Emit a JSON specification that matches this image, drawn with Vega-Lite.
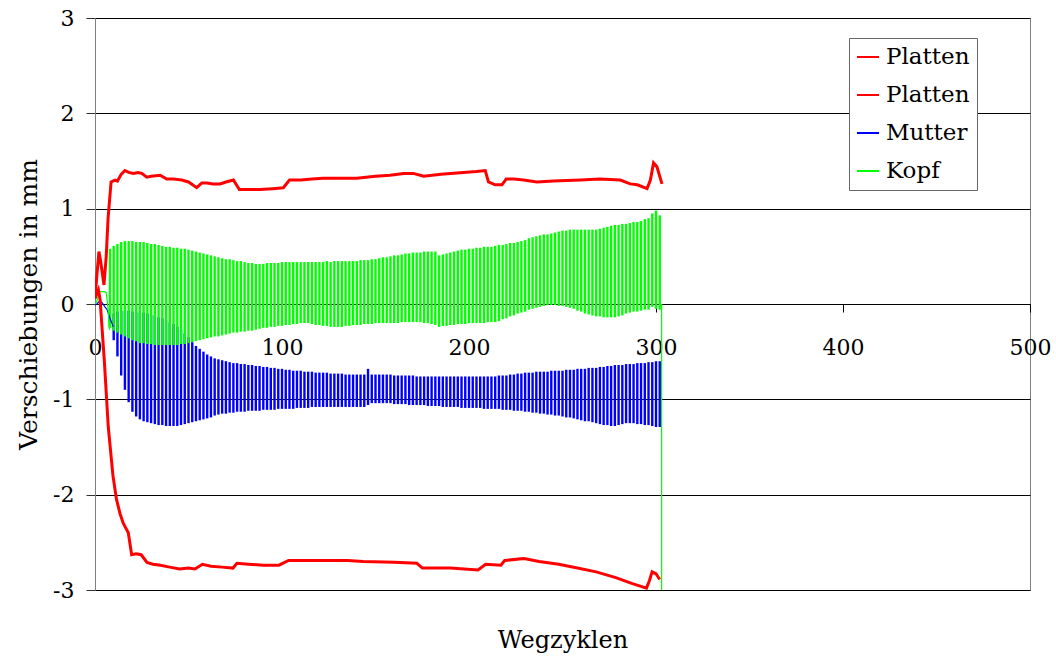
{
  "$schema": "https://vega.github.io/schema/vega-lite/v6.json",
  "autosize": "none",
  "width": 935,
  "height": 572,
  "padding": {"left": 95, "top": 18, "right": 26, "bottom": 69},
  "background": "white",
  "config": {
    "view": {"stroke": "#808080", "strokeWidth": 1},
    "font": "DejaVu Serif"
  },
  "datasets": {
    "platten": [
      {"serie": "Platten oben", "x": 0, "y": 0.06}, {"serie": "Platten oben", "x": 1, "y": 0.3}, {"serie": "Platten oben", "x": 2.1, "y": 0.55}, {"serie": "Platten oben", "x": 3, "y": 0.45}, {"serie": "Platten oben", "x": 4.8, "y": 0.2}, {"serie": "Platten oben", "x": 6, "y": 0.5}, {"serie": "Platten oben", "x": 7, "y": 0.9}, {"serie": "Platten oben", "x": 8.6, "y": 1.28}, {"serie": "Platten oben", "x": 10.7, "y": 1.3}, {"serie": "Platten oben", "x": 12, "y": 1.29}, {"serie": "Platten oben", "x": 14, "y": 1.36}, {"serie": "Platten oben", "x": 16, "y": 1.4}, {"serie": "Platten oben", "x": 18, "y": 1.38}, {"serie": "Platten oben", "x": 20.5, "y": 1.37}, {"serie": "Platten oben", "x": 23, "y": 1.38}, {"serie": "Platten oben", "x": 25, "y": 1.37}, {"serie": "Platten oben", "x": 27.7, "y": 1.33}, {"serie": "Platten oben", "x": 30, "y": 1.34}, {"serie": "Platten oben", "x": 34.8, "y": 1.35}, {"serie": "Platten oben", "x": 38.4, "y": 1.31}, {"serie": "Platten oben", "x": 42, "y": 1.31}, {"serie": "Platten oben", "x": 46.4, "y": 1.3}, {"serie": "Platten oben", "x": 50, "y": 1.28}, {"serie": "Platten oben", "x": 54.4, "y": 1.22}, {"serie": "Platten oben", "x": 57.1, "y": 1.27}, {"serie": "Platten oben", "x": 60, "y": 1.27}, {"serie": "Platten oben", "x": 63, "y": 1.26}, {"serie": "Platten oben", "x": 66.9, "y": 1.26}, {"serie": "Platten oben", "x": 70, "y": 1.28}, {"serie": "Platten oben", "x": 74, "y": 1.3}, {"serie": "Platten oben", "x": 77.2, "y": 1.2}, {"serie": "Platten oben", "x": 82, "y": 1.2}, {"serie": "Platten oben", "x": 88.3, "y": 1.2}, {"serie": "Platten oben", "x": 95, "y": 1.21}, {"serie": "Platten oben", "x": 100.7, "y": 1.22}, {"serie": "Platten oben", "x": 104, "y": 1.3}, {"serie": "Platten oben", "x": 110, "y": 1.3}, {"serie": "Platten oben", "x": 116, "y": 1.31}, {"serie": "Platten oben", "x": 122.1, "y": 1.32}, {"serie": "Platten oben", "x": 130, "y": 1.32}, {"serie": "Platten oben", "x": 140, "y": 1.32}, {"serie": "Platten oben", "x": 150, "y": 1.34}, {"serie": "Platten oben", "x": 157.8, "y": 1.35}, {"serie": "Platten oben", "x": 165, "y": 1.37}, {"serie": "Platten oben", "x": 170.3, "y": 1.37}, {"serie": "Platten oben", "x": 175.7, "y": 1.34}, {"serie": "Platten oben", "x": 185, "y": 1.36}, {"serie": "Platten oben", "x": 197.1, "y": 1.38}, {"serie": "Platten oben", "x": 204, "y": 1.39}, {"serie": "Platten oben", "x": 208.7, "y": 1.4}, {"serie": "Platten oben", "x": 210.4, "y": 1.28}, {"serie": "Platten oben", "x": 214, "y": 1.25}, {"serie": "Platten oben", "x": 217.6, "y": 1.25}, {"serie": "Platten oben", "x": 219.9, "y": 1.31}, {"serie": "Platten oben", "x": 224, "y": 1.31}, {"serie": "Platten oben", "x": 229.2, "y": 1.3}, {"serie": "Platten oben", "x": 236.3, "y": 1.28}, {"serie": "Platten oben", "x": 245, "y": 1.29}, {"serie": "Platten oben", "x": 259.5, "y": 1.3}, {"serie": "Platten oben", "x": 270, "y": 1.31}, {"serie": "Platten oben", "x": 280.9, "y": 1.3}, {"serie": "Platten oben", "x": 286.2, "y": 1.26}, {"serie": "Platten oben", "x": 290, "y": 1.25}, {"serie": "Platten oben", "x": 295.2, "y": 1.21}, {"serie": "Platten oben", "x": 297, "y": 1.3}, {"serie": "Platten oben", "x": 298.7, "y": 1.48}, {"serie": "Platten oben", "x": 300.5, "y": 1.44}, {"serie": "Platten oben", "x": 303.2, "y": 1.26},
      {"serie": "Platten unten", "x": 0, "y": 0.06}, {"serie": "Platten unten", "x": 1.8, "y": 0.15}, {"serie": "Platten unten", "x": 2.7, "y": 0.05}, {"serie": "Platten unten", "x": 5, "y": -0.6}, {"serie": "Platten unten", "x": 7.1, "y": -1.29}, {"serie": "Platten unten", "x": 9.6, "y": -1.8}, {"serie": "Platten unten", "x": 11.5, "y": -2.05}, {"serie": "Platten unten", "x": 13.4, "y": -2.2}, {"serie": "Platten unten", "x": 15.1, "y": -2.3}, {"serie": "Platten unten", "x": 17.8, "y": -2.4}, {"serie": "Platten unten", "x": 19.6, "y": -2.63}, {"serie": "Platten unten", "x": 22, "y": -2.62}, {"serie": "Platten unten", "x": 24.7, "y": -2.63}, {"serie": "Platten unten", "x": 27.8, "y": -2.71}, {"serie": "Platten unten", "x": 31, "y": -2.73}, {"serie": "Platten unten", "x": 35, "y": -2.74}, {"serie": "Platten unten", "x": 40, "y": -2.76}, {"serie": "Platten unten", "x": 45.2, "y": -2.78}, {"serie": "Platten unten", "x": 50, "y": -2.77}, {"serie": "Platten unten", "x": 53.4, "y": -2.78}, {"serie": "Platten unten", "x": 57.5, "y": -2.73}, {"serie": "Platten unten", "x": 62, "y": -2.75}, {"serie": "Platten unten", "x": 68, "y": -2.76}, {"serie": "Platten unten", "x": 73.8, "y": -2.77}, {"serie": "Platten unten", "x": 75.9, "y": -2.72}, {"serie": "Platten unten", "x": 82, "y": -2.73}, {"serie": "Platten unten", "x": 90, "y": -2.74}, {"serie": "Platten unten", "x": 98.4, "y": -2.74}, {"serie": "Platten unten", "x": 103.5, "y": -2.69}, {"serie": "Platten unten", "x": 120, "y": -2.69}, {"serie": "Platten unten", "x": 135.2, "y": -2.69}, {"serie": "Platten unten", "x": 143.4, "y": -2.7}, {"serie": "Platten unten", "x": 160, "y": -2.71}, {"serie": "Platten unten", "x": 172.1, "y": -2.72}, {"serie": "Platten unten", "x": 175.1, "y": -2.77}, {"serie": "Platten unten", "x": 190, "y": -2.77}, {"serie": "Platten unten", "x": 204.8, "y": -2.79}, {"serie": "Platten unten", "x": 208.9, "y": -2.73}, {"serie": "Platten unten", "x": 217.1, "y": -2.74}, {"serie": "Platten unten", "x": 219.1, "y": -2.69}, {"serie": "Platten unten", "x": 229.4, "y": -2.67}, {"serie": "Platten unten", "x": 237.5, "y": -2.7}, {"serie": "Platten unten", "x": 248, "y": -2.73}, {"serie": "Platten unten", "x": 258, "y": -2.77}, {"serie": "Platten unten", "x": 268, "y": -2.81}, {"serie": "Platten unten", "x": 278.5, "y": -2.87}, {"serie": "Platten unten", "x": 287, "y": -2.93}, {"serie": "Platten unten", "x": 294.9, "y": -2.98}, {"serie": "Platten unten", "x": 296.5, "y": -2.9}, {"serie": "Platten unten", "x": 297.9, "y": -2.81}, {"serie": "Platten unten", "x": 300, "y": -2.83}, {"serie": "Platten unten", "x": 302, "y": -2.89}
    ],
    "verlauf": [
      {"serie": "Mutter", "teil": "m0", "x": 0, "y": -0.01}, {"serie": "Mutter", "teil": "m0", "x": 1, "y": 0.0}, {"serie": "Mutter", "teil": "m0", "x": 2, "y": 0.02}, {"serie": "Mutter", "teil": "m0", "x": 3, "y": 0.03}, {"serie": "Mutter", "teil": "m0", "x": 4, "y": 0.01}, {"serie": "Mutter", "teil": "m0", "x": 5.3, "y": -0.03}, {"serie": "Mutter", "teil": "m0", "x": 6.5, "y": -0.06}, {"serie": "Mutter", "teil": "m0", "x": 8, "y": -0.15}, {"serie": "Mutter", "teil": "m0", "x": 9.8, "y": -0.24},
      {"serie": "Kopf", "teil": "k0", "x": 0, "y": 0.0}, {"serie": "Kopf", "teil": "k0", "x": 1, "y": 0.03}, {"serie": "Kopf", "teil": "k0", "x": 2, "y": 0.12}, {"serie": "Kopf", "teil": "k0", "x": 3, "y": 0.13}, {"serie": "Kopf", "teil": "k0", "x": 5, "y": 0.13}, {"serie": "Kopf", "teil": "k0", "x": 6, "y": 0.12}, {"serie": "Kopf", "teil": "k0", "x": 7, "y": -0.05}, {"serie": "Kopf", "teil": "k0", "x": 7.5, "y": -0.25}, {"serie": "Kopf", "teil": "k0", "x": 8, "y": -0.27},
      {"serie": "Kopf", "teil": "k1", "x": 303, "y": 0.0}, {"serie": "Kopf", "teil": "k1", "x": 303, "y": -3.0}
    ],
    "zyklen": [
      {"x": 8, "ko": 0.58, "ku": -0.25, "mo": -0.10, "mu": -0.20},
      {"x": 10, "ko": 0.61, "ku": -0.28, "mo": -0.10, "mu": -0.38},
      {"x": 12, "ko": 0.63, "ku": -0.30, "mo": -0.08, "mu": -0.55},
      {"x": 14, "ko": 0.65, "ku": -0.32, "mo": -0.07, "mu": -0.75},
      {"x": 16, "ko": 0.66, "ku": -0.34, "mo": -0.07, "mu": -0.90},
      {"x": 18, "ko": 0.66, "ku": -0.36, "mo": -0.07, "mu": -1.03},
      {"x": 20, "ko": 0.66, "ku": -0.38, "mo": -0.08, "mu": -1.13},
      {"x": 22, "ko": 0.65, "ku": -0.39, "mo": -0.08, "mu": -1.18},
      {"x": 24, "ko": 0.65, "ku": -0.41, "mo": -0.09, "mu": -1.21},
      {"x": 26, "ko": 0.65, "ku": -0.41, "mo": -0.09, "mu": -1.23},
      {"x": 28, "ko": 0.64, "ku": -0.42, "mo": -0.10, "mu": -1.24},
      {"x": 30, "ko": 0.63, "ku": -0.42, "mo": -0.11, "mu": -1.25},
      {"x": 32, "ko": 0.63, "ku": -0.43, "mo": -0.12, "mu": -1.26},
      {"x": 34, "ko": 0.62, "ku": -0.43, "mo": -0.14, "mu": -1.27},
      {"x": 36, "ko": 0.61, "ku": -0.43, "mo": -0.15, "mu": -1.27},
      {"x": 38, "ko": 0.60, "ku": -0.43, "mo": -0.17, "mu": -1.28},
      {"x": 40, "ko": 0.60, "ku": -0.43, "mo": -0.19, "mu": -1.28},
      {"x": 42, "ko": 0.59, "ku": -0.43, "mo": -0.21, "mu": -1.28},
      {"x": 44, "ko": 0.59, "ku": -0.43, "mo": -0.24, "mu": -1.28},
      {"x": 46, "ko": 0.58, "ku": -0.42, "mo": -0.27, "mu": -1.27},
      {"x": 48, "ko": 0.58, "ku": -0.42, "mo": -0.31, "mu": -1.26},
      {"x": 50, "ko": 0.57, "ku": -0.41, "mo": -0.35, "mu": -1.25},
      {"x": 52, "ko": 0.56, "ku": -0.40, "mo": -0.40, "mu": -1.24},
      {"x": 54, "ko": 0.55, "ku": -0.39, "mo": -0.44, "mu": -1.23},
      {"x": 56, "ko": 0.54, "ku": -0.38, "mo": -0.47, "mu": -1.22},
      {"x": 58, "ko": 0.53, "ku": -0.37, "mo": -0.50, "mu": -1.21},
      {"x": 60, "ko": 0.52, "ku": -0.36, "mo": -0.53, "mu": -1.20},
      {"x": 62, "ko": 0.51, "ku": -0.35, "mo": -0.55, "mu": -1.19},
      {"x": 64, "ko": 0.50, "ku": -0.34, "mo": -0.57, "mu": -1.17},
      {"x": 66, "ko": 0.49, "ku": -0.34, "mo": -0.58, "mu": -1.16},
      {"x": 68, "ko": 0.48, "ku": -0.33, "mo": -0.59, "mu": -1.15},
      {"x": 70, "ko": 0.47, "ku": -0.32, "mo": -0.60, "mu": -1.15},
      {"x": 72, "ko": 0.47, "ku": -0.31, "mo": -0.61, "mu": -1.14},
      {"x": 74, "ko": 0.46, "ku": -0.30, "mo": -0.62, "mu": -1.14},
      {"x": 76, "ko": 0.45, "ku": -0.30, "mo": -0.62, "mu": -1.13},
      {"x": 78, "ko": 0.45, "ku": -0.29, "mo": -0.63, "mu": -1.13},
      {"x": 80, "ko": 0.44, "ku": -0.29, "mo": -0.63, "mu": -1.13},
      {"x": 82, "ko": 0.43, "ku": -0.28, "mo": -0.64, "mu": -1.12},
      {"x": 84, "ko": 0.43, "ku": -0.28, "mo": -0.64, "mu": -1.12},
      {"x": 86, "ko": 0.42, "ku": -0.27, "mo": -0.65, "mu": -1.12},
      {"x": 88, "ko": 0.42, "ku": -0.26, "mo": -0.65, "mu": -1.12},
      {"x": 90, "ko": 0.42, "ku": -0.25, "mo": -0.66, "mu": -1.11},
      {"x": 92, "ko": 0.43, "ku": -0.25, "mo": -0.66, "mu": -1.11},
      {"x": 94, "ko": 0.43, "ku": -0.24, "mo": -0.67, "mu": -1.11},
      {"x": 96, "ko": 0.43, "ku": -0.24, "mo": -0.67, "mu": -1.11},
      {"x": 98, "ko": 0.43, "ku": -0.23, "mo": -0.68, "mu": -1.10},
      {"x": 100, "ko": 0.44, "ku": -0.23, "mo": -0.68, "mu": -1.10},
      {"x": 102, "ko": 0.44, "ku": -0.22, "mo": -0.69, "mu": -1.10},
      {"x": 104, "ko": 0.44, "ku": -0.22, "mo": -0.69, "mu": -1.10},
      {"x": 106, "ko": 0.44, "ku": -0.21, "mo": -0.70, "mu": -1.10},
      {"x": 108, "ko": 0.44, "ku": -0.21, "mo": -0.70, "mu": -1.09},
      {"x": 110, "ko": 0.44, "ku": -0.20, "mo": -0.70, "mu": -1.09},
      {"x": 112, "ko": 0.44, "ku": -0.20, "mo": -0.71, "mu": -1.09},
      {"x": 114, "ko": 0.44, "ku": -0.20, "mo": -0.71, "mu": -1.09},
      {"x": 116, "ko": 0.44, "ku": -0.21, "mo": -0.71, "mu": -1.08},
      {"x": 118, "ko": 0.44, "ku": -0.22, "mo": -0.72, "mu": -1.08},
      {"x": 120, "ko": 0.44, "ku": -0.22, "mo": -0.72, "mu": -1.08},
      {"x": 122, "ko": 0.44, "ku": -0.23, "mo": -0.72, "mu": -1.08},
      {"x": 124, "ko": 0.45, "ku": -0.23, "mo": -0.72, "mu": -1.08},
      {"x": 126, "ko": 0.44, "ku": -0.24, "mo": -0.73, "mu": -1.08},
      {"x": 128, "ko": 0.45, "ku": -0.24, "mo": -0.73, "mu": -1.08},
      {"x": 130, "ko": 0.45, "ku": -0.24, "mo": -0.73, "mu": -1.08},
      {"x": 132, "ko": 0.45, "ku": -0.24, "mo": -0.73, "mu": -1.08},
      {"x": 134, "ko": 0.45, "ku": -0.23, "mo": -0.74, "mu": -1.08},
      {"x": 136, "ko": 0.45, "ku": -0.23, "mo": -0.74, "mu": -1.08},
      {"x": 138, "ko": 0.45, "ku": -0.22, "mo": -0.74, "mu": -1.08},
      {"x": 140, "ko": 0.45, "ku": -0.22, "mo": -0.74, "mu": -1.08},
      {"x": 142, "ko": 0.46, "ku": -0.22, "mo": -0.74, "mu": -1.08},
      {"x": 144, "ko": 0.46, "ku": -0.21, "mo": -0.74, "mu": -1.08},
      {"x": 146, "ko": 0.46, "ku": -0.21, "mo": -0.68, "mu": -1.06},
      {"x": 148, "ko": 0.47, "ku": -0.21, "mo": -0.74, "mu": -1.04},
      {"x": 150, "ko": 0.47, "ku": -0.20, "mo": -0.74, "mu": -1.04},
      {"x": 152, "ko": 0.48, "ku": -0.20, "mo": -0.74, "mu": -1.04},
      {"x": 154, "ko": 0.49, "ku": -0.20, "mo": -0.74, "mu": -1.04},
      {"x": 156, "ko": 0.49, "ku": -0.20, "mo": -0.74, "mu": -1.04},
      {"x": 158, "ko": 0.50, "ku": -0.20, "mo": -0.74, "mu": -1.04},
      {"x": 160, "ko": 0.51, "ku": -0.20, "mo": -0.75, "mu": -1.05},
      {"x": 162, "ko": 0.51, "ku": -0.20, "mo": -0.75, "mu": -1.05},
      {"x": 164, "ko": 0.52, "ku": -0.19, "mo": -0.75, "mu": -1.05},
      {"x": 166, "ko": 0.53, "ku": -0.19, "mo": -0.75, "mu": -1.05},
      {"x": 168, "ko": 0.53, "ku": -0.19, "mo": -0.75, "mu": -1.06},
      {"x": 170, "ko": 0.54, "ku": -0.19, "mo": -0.75, "mu": -1.06},
      {"x": 172, "ko": 0.54, "ku": -0.19, "mo": -0.76, "mu": -1.06},
      {"x": 174, "ko": 0.54, "ku": -0.19, "mo": -0.76, "mu": -1.06},
      {"x": 176, "ko": 0.55, "ku": -0.20, "mo": -0.76, "mu": -1.06},
      {"x": 178, "ko": 0.55, "ku": -0.20, "mo": -0.76, "mu": -1.07},
      {"x": 180, "ko": 0.55, "ku": -0.21, "mo": -0.76, "mu": -1.07},
      {"x": 182, "ko": 0.55, "ku": -0.22, "mo": -0.76, "mu": -1.07},
      {"x": 184, "ko": 0.51, "ku": -0.24, "mo": -0.76, "mu": -1.07},
      {"x": 186, "ko": 0.52, "ku": -0.23, "mo": -0.76, "mu": -1.08},
      {"x": 188, "ko": 0.53, "ku": -0.23, "mo": -0.76, "mu": -1.08},
      {"x": 190, "ko": 0.54, "ku": -0.22, "mo": -0.76, "mu": -1.08},
      {"x": 192, "ko": 0.55, "ku": -0.22, "mo": -0.76, "mu": -1.08},
      {"x": 194, "ko": 0.56, "ku": -0.21, "mo": -0.76, "mu": -1.08},
      {"x": 196, "ko": 0.57, "ku": -0.21, "mo": -0.76, "mu": -1.09},
      {"x": 198, "ko": 0.57, "ku": -0.21, "mo": -0.76, "mu": -1.09},
      {"x": 200, "ko": 0.58, "ku": -0.20, "mo": -0.76, "mu": -1.09},
      {"x": 202, "ko": 0.58, "ku": -0.20, "mo": -0.76, "mu": -1.09},
      {"x": 204, "ko": 0.59, "ku": -0.20, "mo": -0.76, "mu": -1.09},
      {"x": 206, "ko": 0.59, "ku": -0.20, "mo": -0.76, "mu": -1.09},
      {"x": 208, "ko": 0.60, "ku": -0.20, "mo": -0.76, "mu": -1.10},
      {"x": 210, "ko": 0.60, "ku": -0.19, "mo": -0.76, "mu": -1.10},
      {"x": 212, "ko": 0.60, "ku": -0.19, "mo": -0.76, "mu": -1.10},
      {"x": 214, "ko": 0.61, "ku": -0.19, "mo": -0.76, "mu": -1.10},
      {"x": 216, "ko": 0.62, "ku": -0.18, "mo": -0.75, "mu": -1.10},
      {"x": 218, "ko": 0.62, "ku": -0.16, "mo": -0.75, "mu": -1.11},
      {"x": 220, "ko": 0.63, "ku": -0.15, "mo": -0.75, "mu": -1.11},
      {"x": 222, "ko": 0.64, "ku": -0.13, "mo": -0.74, "mu": -1.11},
      {"x": 224, "ko": 0.64, "ku": -0.12, "mo": -0.74, "mu": -1.12},
      {"x": 226, "ko": 0.65, "ku": -0.10, "mo": -0.73, "mu": -1.12},
      {"x": 228, "ko": 0.66, "ku": -0.09, "mo": -0.73, "mu": -1.12},
      {"x": 230, "ko": 0.67, "ku": -0.08, "mo": -0.72, "mu": -1.13},
      {"x": 232, "ko": 0.69, "ku": -0.06, "mo": -0.72, "mu": -1.13},
      {"x": 234, "ko": 0.70, "ku": -0.05, "mo": -0.72, "mu": -1.14},
      {"x": 236, "ko": 0.71, "ku": -0.04, "mo": -0.71, "mu": -1.14},
      {"x": 238, "ko": 0.72, "ku": -0.03, "mo": -0.71, "mu": -1.15},
      {"x": 240, "ko": 0.73, "ku": -0.02, "mo": -0.71, "mu": -1.15},
      {"x": 242, "ko": 0.73, "ku": -0.01, "mo": -0.71, "mu": -1.16},
      {"x": 244, "ko": 0.74, "ku": -0.01, "mo": -0.70, "mu": -1.16},
      {"x": 246, "ko": 0.75, "ku": -0.01, "mo": -0.70, "mu": -1.17},
      {"x": 248, "ko": 0.76, "ku": -0.02, "mo": -0.70, "mu": -1.17},
      {"x": 250, "ko": 0.77, "ku": -0.02, "mo": -0.70, "mu": -1.18},
      {"x": 252, "ko": 0.77, "ku": -0.03, "mo": -0.69, "mu": -1.19},
      {"x": 254, "ko": 0.78, "ku": -0.04, "mo": -0.69, "mu": -1.19},
      {"x": 256, "ko": 0.78, "ku": -0.05, "mo": -0.69, "mu": -1.20},
      {"x": 258, "ko": 0.78, "ku": -0.07, "mo": -0.68, "mu": -1.21},
      {"x": 260, "ko": 0.78, "ku": -0.08, "mo": -0.68, "mu": -1.22},
      {"x": 262, "ko": 0.78, "ku": -0.10, "mo": -0.68, "mu": -1.23},
      {"x": 264, "ko": 0.78, "ku": -0.11, "mo": -0.67, "mu": -1.23},
      {"x": 266, "ko": 0.78, "ku": -0.12, "mo": -0.67, "mu": -1.24},
      {"x": 268, "ko": 0.78, "ku": -0.13, "mo": -0.67, "mu": -1.25},
      {"x": 270, "ko": 0.79, "ku": -0.13, "mo": -0.66, "mu": -1.26},
      {"x": 272, "ko": 0.80, "ku": -0.14, "mo": -0.66, "mu": -1.27},
      {"x": 274, "ko": 0.81, "ku": -0.14, "mo": -0.65, "mu": -1.27},
      {"x": 276, "ko": 0.82, "ku": -0.14, "mo": -0.65, "mu": -1.28},
      {"x": 278, "ko": 0.83, "ku": -0.14, "mo": -0.64, "mu": -1.28},
      {"x": 280, "ko": 0.83, "ku": -0.13, "mo": -0.64, "mu": -1.27},
      {"x": 282, "ko": 0.84, "ku": -0.12, "mo": -0.64, "mu": -1.26},
      {"x": 284, "ko": 0.84, "ku": -0.10, "mo": -0.63, "mu": -1.25},
      {"x": 286, "ko": 0.85, "ku": -0.09, "mo": -0.63, "mu": -1.25},
      {"x": 288, "ko": 0.86, "ku": -0.08, "mo": -0.63, "mu": -1.25},
      {"x": 290, "ko": 0.86, "ku": -0.08, "mo": -0.62, "mu": -1.26},
      {"x": 292, "ko": 0.87, "ku": -0.07, "mo": -0.62, "mu": -1.26},
      {"x": 294, "ko": 0.89, "ku": -0.06, "mo": -0.62, "mu": -1.27},
      {"x": 296, "ko": 0.90, "ku": -0.06, "mo": -0.61, "mu": -1.27},
      {"x": 298, "ko": 0.95, "ku": -0.03, "mo": -0.61, "mu": -1.28},
      {"x": 300, "ko": 0.98, "ku": -0.05, "mo": -0.60, "mu": -1.29},
      {"x": 302, "ko": 0.93, "ku": -0.06, "mo": -0.60, "mu": -1.29}
    ]
  },
  "resolve": {"axis": {"x": "independent", "y": "independent"}},
  "layer": [
    {
      "data": {"name": "zyklen"},
      "mark": {"type": "rule", "strokeWidth": 2.4, "clip": true},
      "encoding": {
        "x": {
          "field": "x", "type": "quantitative",
          "scale": {"domain": [0, 500], "nice": false},
          "axis": {
            "orient": "bottom", "offset": -286,
            "title": "Wegzyklen",
            "values": [0, 100, 200, 300, 400, 500],
            "domainColor": "black", "domainWidth": 1,
            "tickColor": "black", "tickSize": 8, "tickWidth": 1,
            "labelFont": "DejaVu Serif", "labelFontSize": 22, "labelColor": "black",
            "labelPadding": 25, "labelFlush": false, "labelOverlap": false,
            "grid": false,
            "titleFont": "DejaVu Serif", "titleFontSize": 24, "titleFontWeight": "normal", "titleColor": "black",
            "titleBaseline": "middle", "titleY": 336
          }
        },
        "y": {
          "field": "mu", "type": "quantitative",
          "scale": {"domain": [-3, 3], "nice": false},
          "axis": {
            "orient": "left",
            "title": "Verschiebungen in mm",
            "values": [-3, -2, -1, 0, 1, 2, 3],
            "labelExpr": "datum.value + ''",
            "domainColor": "#808080",
            "tickColor": "#333333", "tickSize": 9,
            "labelFont": "DejaVu Serif", "labelFontSize": 22, "labelColor": "black",
            "labelPadding": 12, "labelFlush": false, "labelOverlap": false,
            "grid": true, "gridColor": "black", "gridOpacity": 1, "gridWidth": 1,
            "titleFont": "DejaVu Serif", "titleFontSize": 25, "titleFontWeight": "normal", "titleColor": "black",
            "titlePadding": 11
          }
        },
        "y2": {"field": "mo"},
        "color": {
          "datum": "Mutter",
          "title": null,
          "scale": {
            "domain": ["Platten oben", "Platten unten", "Mutter", "Kopf"],
            "range": ["#ff0000", "#ff0000", "#0000ff", "#00ff00"]
          },
          "legend": {
            "title": null,
            "orient": "none", "legendX": 754, "legendY": 20,
            "fillColor": "white", "strokeColor": "#666666",
            "padding": 7,
            "symbolType": "stroke", "symbolSize": 484, "symbolStrokeWidth": 2,
            "labelFont": "DejaVu Serif", "labelFontSize": 23, "labelColor": "black",
            "labelOffset": 6, "rowPadding": 14,
            "labelExpr": "indexof(datum.label, 'Platten') == 0 ? 'Platten' : datum.label"
          }
        }
      }
    },
    {
      "data": {"name": "zyklen"},
      "mark": {"type": "rule", "strokeWidth": 2.4, "clip": true},
      "encoding": {
        "x": {"field": "x", "type": "quantitative", "axis": null},
        "y": {"field": "ku", "type": "quantitative", "axis": null},
        "y2": {"field": "ko"},
        "color": {"datum": "Kopf", "title": null}
      }
    },
    {
      "data": {"name": "verlauf"},
      "mark": {"type": "line", "strokeWidth": 1.2, "clip": true},
      "encoding": {
        "x": {"field": "x", "type": "quantitative", "axis": null},
        "y": {"field": "y", "type": "quantitative", "axis": null},
        "color": {"field": "serie", "type": "nominal", "title": null},
        "detail": {"field": "teil"},
        "order": {"field": "x"}
      }
    },
    {
      "data": {"name": "platten"},
      "mark": {"type": "line", "strokeWidth": 3, "clip": true},
      "encoding": {
        "x": {"field": "x", "type": "quantitative", "axis": null},
        "y": {"field": "y", "type": "quantitative", "axis": null},
        "color": {"field": "serie", "type": "nominal", "title": null}
      }
    }
  ]
}
